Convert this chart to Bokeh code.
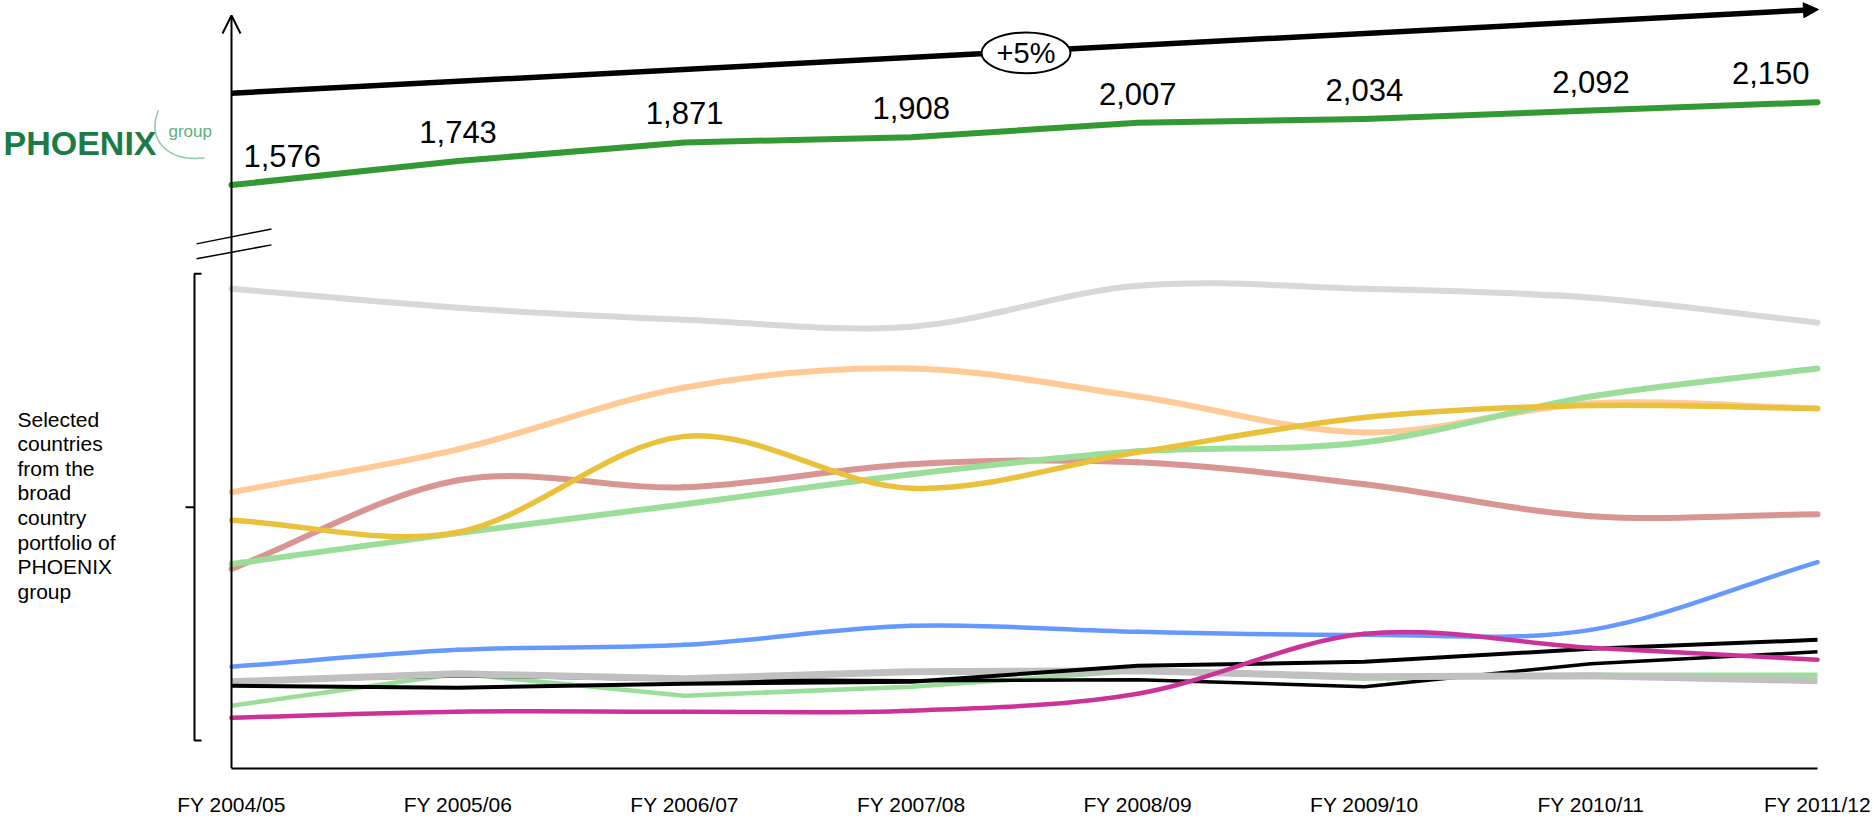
from bokeh.plotting import figure
from bokeh.models import Range1d, FixedTicker, Arrow, NormalHead, OpenHead, ColumnDataSource
from bokeh.core.properties import value
from bokeh.embed import file_html
from bokeh.resources import INLINE

# ---------------- data ----------------
years = ["FY 2004/05", "FY 2005/06", "FY 2006/07", "FY 2007/08",
         "FY 2008/09", "FY 2009/10", "FY 2010/11", "FY 2011/12"]
group_total = [1576, 1743, 1871, 1908, 2007, 2034, 2092, 2150]
growth_label = "+5%"

# selected countries (relative index, no scale shown in original)
country_grey_top = [96.2, 92.4, 90.0, 88.6, 96.8, 96.2, 94.4, 89.4]
country_peach = [55.4, 64.0, 76.4, 80.2, 74.6, 67.4, 73.2, 72.2]
country_rose = [40.0, 57.8, 56.4, 61.0, 61.4, 57.0, 50.6, 51.0]
country_lightgreen = [41.0, 47.2, 53.0, 59.0, 63.6, 65.4, 74.6, 80.2]
country_gold = [49.8, 47.4, 66.6, 56.2, 63.4, 70.4, 72.8, 72.2]
country_lightgreen_small = [12.6, 19.0, 14.6, 16.4, 19.6, 18.0, 18.8, 18.8]
country_black_b = [17.4, 18.6, 17.8, 17.6, 17.8, 16.4, 21.0, 23.4]
country_grey_small = [17.4, 19.0, 18.0, 19.4, 19.6, 18.4, 18.6, 17.6]
country_black_a = [16.6, 16.2, 17.0, 17.4, 20.6, 21.4, 24.0, 25.8]
country_blue = [20.4, 23.8, 24.8, 28.6, 27.4, 26.8, 27.8, 41.4]
country_magenta = [10.2, 11.4, 11.4, 11.6, 15.0, 27.0, 24.2, 21.8]

side_text = "Selected\ncountries\nfrom the\nbroad\ncountry\nportfolio of\nPHOENIX\ngroup"

# ---------------- geometry ----------------
W, H = 1874, 818
X0_PX = 231.0
XSTEP = (1817.0 - 231.0) / 7.0
FRAME_BOTTOM = 770.0
PX_PER_UNIT = 5.0

# group axis scale (broken upper part)
G_TOP_PX, G_BOT_PX = 102.0, 185.0
g_slope = (G_BOT_PX - G_TOP_PX) / (group_total[-1] - group_total[0])
g_lo = group_total[0] - (FRAME_BOTTOM - G_BOT_PX) / g_slope
g_hi = group_total[0] + G_BOT_PX / g_slope


def px_x(px):
    return (px - X0_PX) / XSTEP


def py_y(py):
    return (FRAME_BOTTOM - py) / PX_PER_UNIT


FONT = value("Liberation Sans")

p = figure(width=W, height=H, output_backend="svg", toolbar_location=None,
           x_range=Range1d(-X0_PX / XSTEP, (W - X0_PX) / XSTEP),
           y_range=Range1d(0, FRAME_BOTTOM / PX_PER_UNIT),
           y_axis_location=None, x_axis_location="below",
           min_border_left=0, min_border_right=0, min_border_top=0,
           min_border_bottom=48)
p.extra_y_ranges = {"group": Range1d(g_lo, g_hi)}
p.grid.visible = False
p.outline_line_color = None
p.background_fill_color = "white"
p.border_fill_color = "white"

xi = list(range(len(years)))
ax = p.xaxis[0]
ax.ticker = FixedTicker(ticks=xi)
ax.major_label_overrides = {i: years[i] for i in xi}
ax.bounds = (0, len(years) - 1)
ax.axis_line_width = 2
ax.axis_line_color = "black"
ax.major_tick_line_color = None
ax.minor_tick_line_color = None
ax.major_tick_out = 0
ax.major_tick_in = 0
ax.minor_tick_out = 0
ax.minor_tick_in = 0
ax.major_label_standoff = 24
ax.major_label_text_font_size = "21px"
ax.major_label_text_font = "Liberation Sans"
ax.major_label_text_color = "black"


def smooth(vals):
    n = len(vals)
    m = []
    for i in range(n):
        if i == 0:
            m.append(vals[1] - vals[0])
        elif i == n - 1:
            m.append(vals[-1] - vals[-2])
        else:
            m.append((vals[i + 1] - vals[i - 1]) / 2.0)
    d = dict(x0=[], y0=[], x1=[], y1=[], cx0=[], cy0=[], cx1=[], cy1=[])
    for i in range(n - 1):
        d["x0"].append(i)
        d["y0"].append(vals[i])
        d["x1"].append(i + 1)
        d["y1"].append(vals[i + 1])
        d["cx0"].append(i + 1 / 3)
        d["cy0"].append(vals[i] + m[i] / 3)
        d["cx1"].append(i + 2 / 3)
        d["cy1"].append(vals[i + 1] - m[i + 1] / 3)
    return ColumnDataSource(d)


series = [
    (country_grey_top, "#D8D8DA", 6, True),
    (country_peach, "#FFCA96", 6, True),
    (country_rose, "#D99594", 6, True),
    (country_lightgreen, "#9ADE9A", 6, True),
    (country_gold, "#E9C13A", 5.5, True),
    (country_lightgreen_small, "#9ADE9A", 4.5, False),
    (country_black_b, "black", 3.5, False),
    (country_grey_small, "#C0C0C0", 7, False),
    (country_black_a, "black", 4, False),
    (country_blue, "#6699FF", 4.5, True),
    (country_magenta, "#CC3399", 4.5, True),
]
for vals, col, lw, sm in series:
    if sm:
        p.bezier(x0="x0", y0="y0", x1="x1", y1="y1", cx0="cx0", cy0="cy0",
                 cx1="cx1", cy1="cy1", source=smooth(vals), line_color=col,
                 line_width=lw, line_cap="round")
    else:
        p.line(xi, vals, line_color=col, line_width=lw, line_join="round")

# PHOENIX group total
p.line(xi, group_total, y_range_name="group", line_color="#339933",
       line_width=6, line_cap="round", line_join="round")
n = len(group_total)
lab_src = ColumnDataSource(dict(
    x=xi, y=group_total, t=[f"{v:,}" for v in group_total],
    align=["left"] + ["center"] * (n - 2) + ["right"],
    xoff=[12] + [0] * (n - 2) + [-8]))
p.text(x="x", y="y", text="t", source=lab_src, y_range_name="group",
       text_align="align", x_offset="xoff", y_offset=-29,
       text_baseline="alphabetic", text_font=FONT, text_font_size="31px",
       text_color="black")

# growth arrow with ellipse
p.add_layout(Arrow(end=NormalHead(size=15, fill_color="black", line_color="black"),
                   x_start=0, y_start=py_y(93), x_end=px_x(1818), y_end=py_y(9),
                   line_width=5.5, line_color="black", level="underlay"))
p.ellipse(x=[px_x(1025.5)], y=[py_y(52.5)], width=89 / XSTEP,
          height=41 / PX_PER_UNIT, fill_color="white", line_color="black",
          line_width=2)
p.text(x=[px_x(1025.5)], y=[py_y(53)], text=[growth_label], text_align="center",
       text_baseline="middle", text_font=FONT, text_font_size="29px",
       text_color="black")

# y axis with open arrow
p.add_layout(Arrow(end=OpenHead(size=18, line_width=2, line_color="black"),
                   x_start=0, y_start=0, x_end=0, y_end=py_y(15),
                   line_width=2, line_color="black"))

# axis break marks
p.segment(x0=[px_x(196), px_x(196)], y0=[py_y(244), py_y(259)],
          x1=[px_x(271), px_x(271)], y1=[py_y(229), py_y(245)],
          line_color="black", line_width=1.5)

# bracket for selected countries
p.line([px_x(201), px_x(194), px_x(194), px_x(201)],
       [py_y(274), py_y(274), py_y(742), py_y(742)],
       line_color="black", line_width=2)
p.line([px_x(185), px_x(194)], [py_y(508), py_y(508)],
       line_color="black", line_width=2)
p.text(x=[px_x(17)], y=[py_y(506)], text=[side_text], text_align="left",
       text_baseline="middle", text_font=FONT, text_font_size="21px",
       text_line_height=1.07, text_color="black")

# logo
p.text(x=[px_x(3)], y=[py_y(143)], text=["PHOENIX"], text_align="left",
       text_baseline="middle", text_font=FONT, text_font_size="34px",
       text_font_style="bold", text_color="#1B7D45")
p.text(x=[px_x(168)], y=[py_y(131)], text=["group"], text_align="left",
       text_baseline="middle", text_font=FONT, text_font_size="17px",
       text_color="#5DAF80")
p.bezier(x0=[px_x(158)], y0=[py_y(110)], x1=[px_x(204)], y1=[py_y(158)],
         cx0=[px_x(146)], cy0=[py_y(138)], cx1=[px_x(165)], cy1=[py_y(162)],
         line_color="#8CCBA6", line_width=1.5)

open("out.html", "w").write(file_html(p, INLINE))
